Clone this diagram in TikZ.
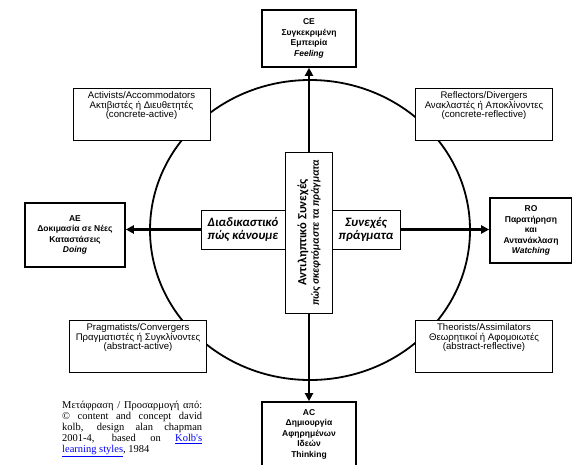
\documentclass[tikz,border=0pt]{standalone}
\usepackage{fontspec}
\setmainfont{Liberation Sans}
\newfontfamily\timesgr{Liberation Serif}
\newfontfamily\calgr{Carlito}
\usetikzlibrary{positioning,arrows.meta}

\begin{document}
\begin{tikzpicture}[x=1pt, y=-1pt, inner sep=1mm, >={Triangle[length=8pt,width=8pt]},
  pole/.style={draw, line width=1.6pt, fill=white, align=center, font=\bfseries\fontsize{8.5}{10.5}\selectfont},
  quadbox/.style={draw, line width=0.8pt, fill=white, minimum width=137pt, minimum height=52pt},
  quadtext/.style={align=center, inner sep=0pt, font=\fontsize{9.6}{9.6}\selectfont},
  band/.style={draw, line width=0.8pt, fill=white, minimum height=39pt, align=center, font=\calgr\bfseries\itshape\fontsize{12.8}{13}\selectfont},
  axis/.style={->, line width=2.4pt}]
\useasboundingbox (0,0) rectangle (572,464);
\clip (0,0) rectangle (572,464);
\draw[line width=1.8pt] (310,230) ellipse [x radius=160, y radius=150];
% the four poles
\node (ce) at (309,38.5) [pole, minimum width=94pt, minimum height=57pt] {CE\\Συγκεκριμένη\\Εμπειρία\\\textit{Feeling}};
\node (ac) at (309,434) [pole, minimum width=94pt, minimum height=64pt] {AC\\Δημιουργία\\Αφηρημένων\\Ιδεών\\Thinking};
\node (ae) at (75,235) [pole, minimum width=100pt, minimum height=64pt] {AE\\Δοκιμασία σε Νέες\\Καταστάσεις\\\textit{Doing}};
\node (ro) at (531,230.5) [pole, minimum width=82pt, minimum height=65pt] {RO\\Παρατήρηση\\και\\Αντανάκλαση\\\textit{Watching}};
% the two continua
\node (lband) at (243,229.5) [band, minimum width=84pt] {Διαδικαστικό\\πώς κάνουμε};
\node (rband) at (366,229.5) [band, minimum width=68pt] {Συνεχές\\πράγματα};
\node (vbox) at (309,232.5) [draw, line width=0.8pt, fill=white, rotate=90, minimum width=161pt, minimum height=47pt, align=center, font=\calgr\bfseries\fontsize{12.5}{12.5}\selectfont] {Αντιληπτικό Συνεχές\\\itshape\fontsize{11}{12}\selectfont πώς σκεφτόμαστε τα πράγματα};
\draw[axis] (vbox.east) -- (ce.south);
\draw[axis] (vbox.west) -- (ac.north);
\draw[axis] (lband.west) -- (lband.west -| ae.east);
\draw[axis] (rband.east) -- (rband.east -| ro.west);
% learning styles
\node (act) at (141.5,114) [quadbox] {};
\node (acttxt) [quadtext, below=4pt of act.north] {Activists/Accommodators\\Ακτιβιστές ή Διευθετητές\\(concrete-active)};
\node (refl) at (484,114) [quadbox] {};
\node (refltxt) [quadtext, below=4pt of refl.north] {Reflectors/Divergers\\Ανακλαστές ή Αποκλίνοντες\\(concrete-reflective)};
\node (prag) at (138,346) [quadbox] {};
\node (pragtxt) [quadtext, below=4pt of prag.north] {Pragmatists/Convergers\\Πραγματιστές ή Συγκλίνοντες\\(abstract-active)};
\node (theo) at (484,346) [quadbox] {};
\node (theotxt) [quadtext, below=4pt of theo.north] {Theorists/Assimilators\\Θεωρητικοί ή Αφομοιωτές\\(abstract-reflective)};
% source
\node (src) at (62,401) [anchor=north west, inner sep=0pt, text width=140pt, align=justify, font=\timesgr\fontsize{10.5}{11}\selectfont] {Μετάφραση / Προσαρμογή από:\linebreak © content and concept david\linebreak kolb, design alan chapman\linebreak 2001-4, based on \textcolor{blue}{\underline{Kolb's}}\linebreak \textcolor{blue}{\underline{learning styles}}, 1984};
\end{tikzpicture}
\end{document}
